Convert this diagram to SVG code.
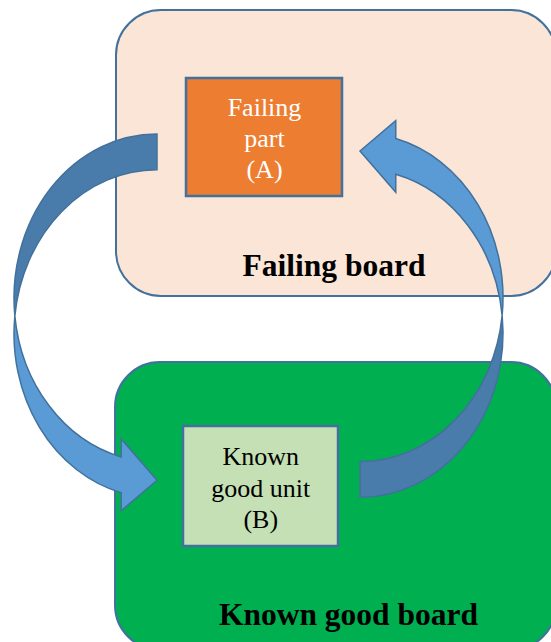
<svg xmlns="http://www.w3.org/2000/svg" width="551" height="642" viewBox="0 0 551 642">
<style>
.board{stroke:#41719C;stroke-width:2}
.box{stroke:#41719C;stroke-width:2.5}
.light{fill:#5B9BD5;stroke:#41719C;stroke-width:1.5;stroke-linejoin:miter}
.dark{fill:#497CAA;stroke:#41719C;stroke-width:1.5}
.t{font-family:"Liberation Serif","Times New Roman",serif;font-size:26px;text-anchor:middle}
.lbl{font-family:"Liberation Serif","Times New Roman",serif;font-size:31.5px;font-weight:bold;text-anchor:middle;fill:#000}
</style>
<defs>
<g id="curved">
<path class="light" d="M14.85,315.98 A143,164.1 0 0 0 121.25,457 L121.25,439.1 L157,480.25 L121.25,510.6 L121.25,492.75 A143,164.1 0 0 1 14.85,315.98 Z"/>
<path class="dark" d="M157,134 A143,164.1 0 0 0 14.85,315.98 A143,164.1 0 0 1 157,169.75 Z"/>
</g>
</defs>
<g id="failing-board">
<rect class="board" x="116" y="10" width="440" height="286" rx="45" ry="45" fill="#FBE5D6"/>
<text class="lbl" x="334" y="276">Failing board</text>
</g>
<g id="known-good-board">
<rect class="board" x="115" y="362" width="441" height="288" rx="45" ry="45" fill="#00B050"/>
<text class="lbl" x="348.5" y="625">Known good board</text>
</g>
<g id="connectors">
<use href="#curved"/>
<use href="#curved" transform="rotate(180 258.5 315.65)"/>
</g>
<g id="failing-part">
<rect class="box" x="186" y="78" width="156" height="118" fill="#ED7D31"/>
<text class="t" fill="#FFFFFF"><tspan x="264.5" y="116">Failing</tspan><tspan x="264.5" y="147">part</tspan><tspan x="264.5" y="178">(A)</tspan></text>
</g>
<g id="known-good-unit">
<rect class="box" x="183" y="426" width="155" height="120" fill="#C5E0B4"/>
<text class="t" fill="#000000"><tspan x="260.8" y="465">Known</tspan><tspan x="260.8" y="497">good unit</tspan><tspan x="260.8" y="528">(B)</tspan></text>
</g>
</svg>
